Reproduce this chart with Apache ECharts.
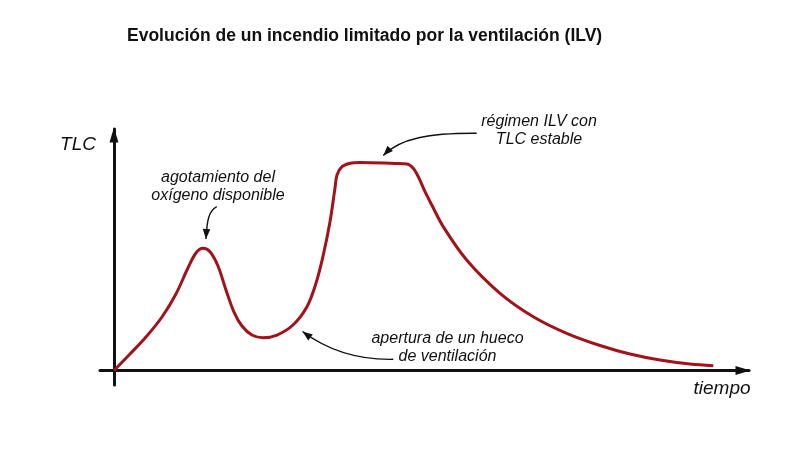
<!DOCTYPE html>
<html>
<head>
<meta charset="utf-8">
<script src="https://cdn.jsdelivr.net/npm/echarts@6/dist/echarts.min.js"></script>
<style>
html,body{margin:0;padding:0;background:#fff;}
#chart{width:800px;height:450px;}
</style>
</head>
<body>
<div id="chart"></div>
<script>
// Time (arbitrary units, 0-100) and TLC (arbitrary units, 0-100)
const timeVals = [0, 2.52, 5.04, 7.56, 9.76, 11.65, 12.91, 14.02, 15.12, 16.38, 17.64, 18.90, 20.16, 21.73, 23.46, 25.67, 28.19, 30.39, 31.81, 32.96, 34.02, 34.80, 35.12, 35.91, 37.17, 38.74, 44.25, 46.14, 47.13, 47.92, 48.98, 50.03, 51.86, 55.54, 60.79, 66.03, 71.29, 76.54, 81.26, 85.98, 90.71, 94.38];
const tlcVals = [0, 6.83, 13.87, 22.15, 31.68, 42.44, 48.65, 50.60, 49.19, 43.27, 33.33, 24.22, 18.43, 14.70, 13.58, 14.70, 18.84, 26.42, 36.11, 47.83, 61.61, 75.44, 80.95, 84.39, 85.80, 86.13, 85.71, 85.51, 83.73, 80.25, 74.04, 68.61, 59.54, 45.76, 31.97, 22.28, 15.40, 10.35, 6.83, 4.35, 2.69, 1.99];

const titleText = 'Evolución de un incendio limitado por la ventilación (ILV)';
const xName = 'tiempo';
const yName = 'TLC';
const noteTexts = [
  'agotamiento del\noxígeno disponible',
  'régimen ILV con\nTLC estable',
  'apertura de un hueco\nde ventilación'
];

const seriesData = timeVals.map((t, i) => [t, tlcVals[i]]);
const FONT = '"Liberation Sans", Arial, sans-serif';
const INK = '#111';

function arrowHead(tip, from, len, hw) {
  const dx = tip[0] - from[0], dy = tip[1] - from[1];
  const d = Math.sqrt(dx * dx + dy * dy) || 1;
  const ux = dx / d, uy = dy / d;
  const bx = tip[0] - ux * len, by = tip[1] - uy * len;
  return [[tip[0], tip[1]], [bx - uy * hw, by + ux * hw], [bx + uy * hw, by - ux * hw]];
}

const arrows = [
  {p1: [216.7, 206.7], c1: [209, 211], c2: [207, 219], p2: [206, 239]},
  {p1: [476.7, 133.3], c1: [430, 133], c2: [400, 138], p2: [383.3, 155.5]},
  {p1: [393.3, 359.3], c1: [360, 360], c2: [330, 352], p2: [302.5, 331.5]}
];
const notePos = [[218, 187], [539, 131], [447.5, 348]];

const graphics = [];
noteTexts.forEach((txt, i) => {
  graphics.push({
    type: 'text', x: notePos[i][0], y: notePos[i][1], z: 100,
    style: {text: txt, fill: INK, fontSize: 16, fontStyle: 'italic', fontFamily: FONT,
      align: 'center', verticalAlign: 'middle', lineHeight: 18}
  });
});
arrows.forEach(a => {
  graphics.push({
    type: 'bezierCurve', z: 100,
    shape: {x1: a.p1[0], y1: a.p1[1], cpx1: a.c1[0], cpy1: a.c1[1], cpx2: a.c2[0], cpy2: a.c2[1], x2: a.p2[0], y2: a.p2[1]},
    style: {stroke: INK, lineWidth: 1.4, fill: null}
  });
  graphics.push({
    type: 'polygon', z: 101,
    shape: {points: arrowHead(a.p2, a.c2, 10, 3.8)},
    style: {fill: INK}
  });
});

const chart = echarts.init(document.getElementById('chart'), null, {renderer: 'canvas'});
chart.setOption({
  animation: false,
  backgroundColor: '#fff',
  title: {
    text: titleText, left: 122, top: 22,
    textStyle: {fontSize: 17.5, fontWeight: 'bold', color: INK, fontFamily: FONT}
  },
  grid: {left: 100, right: 51, top: 129, bottom: 65},
  xAxis: {
    type: 'value', min: -2.2, max: 100,
    name: xName, nameLocation: 'end', nameGap: -27,
    nameTextStyle: {fontSize: 19, fontStyle: 'italic', color: INK, fontFamily: FONT,
      align: 'center', verticalAlign: 'top', padding: [9, 0, 0, 0]},
    axisLine: {show: true, onZero: true, symbol: ['none', 'triangle'], symbolSize: [9, 15], symbolOffset: [0, -6],
      lineStyle: {color: INK, width: 3}},
    axisTick: {show: false}, axisLabel: {show: false}, splitLine: {show: false}
  },
  yAxis: {
    type: 'value', min: -6, max: 100,
    name: yName, nameLocation: 'end', nameGap: -16,
    nameTextStyle: {fontSize: 19, fontStyle: 'italic', color: INK, fontFamily: FONT,
      align: 'right', verticalAlign: 'middle', padding: [0, 18, 0, 0]},
    axisLine: {show: true, onZero: true, symbol: ['none', 'triangle'], symbolSize: [9, 15], symbolOffset: [0, -6],
      lineStyle: {color: INK, width: 3}},
    axisTick: {show: false}, axisLabel: {show: false}, splitLine: {show: false}
  },
  series: [{
    type: 'line', data: seriesData, showSymbol: false, smooth: 0.35,
    lineStyle: {color: '#a3121a', width: 3}, z: 5
  }],
  graphic: graphics
});
</script>
</body>
</html>
